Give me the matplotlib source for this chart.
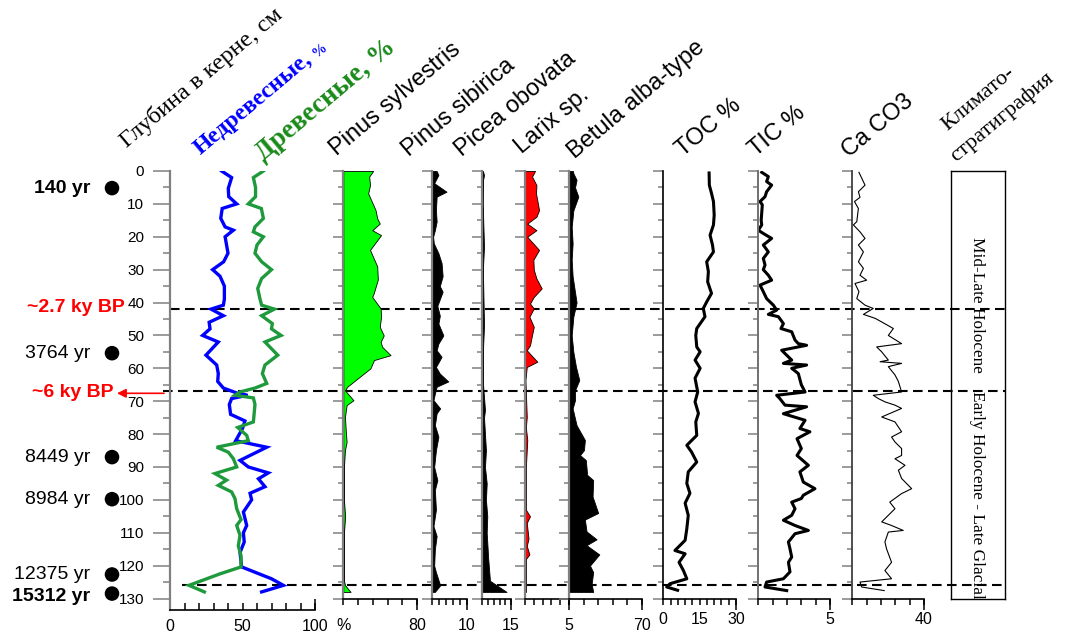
import matplotlib
matplotlib.use("Agg")
import matplotlib.pyplot as plt
from matplotlib import transforms
from matplotlib.ticker import FixedLocator, FuncFormatter
import numpy as np

SANS = ['Liberation Sans', 'DejaVu Sans']
SERIF = ['Liberation Serif', 'DejaVu Serif']
plt.rcParams['font.family'] = SANS

# ---------------- data ----------------
# Non-arboreal (blue) and arboreal (green) pollen, %
nap_depth = [0, 2, 5.3, 7.8, 10, 11.4, 14.4, 17, 18, 20, 22.5, 25, 27.6, 30, 32, 35, 39, 40.8, 42, 44,
             46, 48, 50, 52, 56, 59, 61.6, 64, 66, 67.5, 68.2, 69.2, 71, 74, 76, 78.3, 82, 84, 88, 90,
             91.8, 93.6, 96, 98, 100, 103.7, 107.8, 110, 112.8, 116, 120.4, 124, 126, 128]
nap = [35.6, 42.5, 40.2, 40.5, 46, 36, 35, 38, 43.7, 38, 39, 40, 37, 29.4, 34.5, 37.5, 37.5, 36.8, 28.3, 36.8,
       27, 27.6, 22.5, 33.3, 24.8, 32.2, 33.3, 32.9, 36.8, 46, 53.5, 42.5, 40.9, 41.8, 51.7, 50, 45.3, 66.7, 48.3, 54,
       67.8, 61, 65.5, 55.2, 56.3, 50.6, 52.9, 50.6, 51.2, 48.3, 49.4, 70, 78.2, 63.2]

ap_depth = [0, 2, 5, 7.8, 10, 11.4, 14.4, 17, 18.5, 20, 22.5, 25, 27.6, 30, 32.7, 35.7, 38.8, 40.8, 42, 44,
            46.4, 48, 50, 52, 56, 59, 61.6, 64.6, 66, 67.2, 68.2, 69, 71, 76.3, 78, 80.4, 82, 84, 85.5, 87.5,
            90, 92, 94, 95.6, 97.6, 99.6, 102.7, 106, 107.8, 110.8, 114, 117, 120.4, 122.5, 126, 128]
ap = [64.4, 57.5, 59, 59, 54, 63, 64.4, 58.6, 57.5, 64.4, 60, 58.6, 63.2, 70, 63.2, 60.5, 62, 63.2, 72, 63.2,
      70.6, 70, 76.6, 65.5, 74.3, 65.5, 63.7, 66.7, 58.6, 48.3, 44.8, 57.5, 58.6, 57.5, 46.7, 52.9, 54, 32.2, 40.2, 43.7,
      46, 31, 39, 33.3, 42.5, 44.8, 46, 49, 46, 48.3, 47.1, 49, 49, 34.5, 13.1, 23.7]

# Pinus sylvestris, %
ps_depth = [0, 1.7, 4.3, 6.8, 9.6, 11.9, 14.4, 16, 18, 19.5, 24, 29, 33, 37.2, 38.3, 41.8, 44.3, 47.4, 50, 52,
            53.5, 56, 57.5, 60, 65.6, 66.7, 69.7, 71.2, 74.8, 79.9, 82.4, 84.9, 90, 100, 105, 110, 124.6, 126, 128]
ps = [32.4, 28.1, 29, 27, 31.4, 35, 36.8, 39.6, 31.4, 41, 29, 36.8, 37.5, 33, 31.4, 40.5, 41, 39.6, 43.9, 40.5,
      42.3, 51.3, 33.3, 29.5, 4.3, 1.8, 11, 3.6, 1.8, 2.9, 3.6, 1.8, 0.7, 0.7, 2, 0.7, 0.7, 2, 7.9]

# Pinus sibirica, %
psib_depth = [0, 1.2, 3.7, 6.3, 7.8, 11.9, 15.4, 18, 20, 22, 25, 28, 32, 35, 36.7, 39, 41, 44, 46.4, 50,
              52.5, 54.5, 56.5, 59.6, 61.6, 64, 65.6, 67.7, 69.7, 72.2, 73.7, 77.3, 80.8, 84.9, 90,
              94, 97, 103, 108, 111, 115, 120, 122, 126, 128]
psib = [1.4, 1.9, 0.7, 4.2, 1.4, 1.2, 1.4, 0.9, 0.4, 0.6, 1.9, 2.8, 3.1, 2.3, 3.1, 2.3, 1.6, 2.3, 1.9, 3.3,
        1.9, 1.4, 2.8, 1.2, 2.3, 4.7, 1.4, 0.9, 0.5, 2.4, 1.4, 0.9, 1.9, 1.2, 0.7,
        1.6, 0.9, 1.2, 0.5, 1.4, 0.9, 0.7, 1.2, 2.4, 0.9]

# Picea obovata, %
pic_depth = [0, 1.2, 3, 10, 23, 30, 47, 55, 65, 72.7, 75, 84.9, 90, 95, 100, 105, 110, 118, 124.6, 128]
pic = [0.3, 0.9, 0.3, 0.2, 0.9, 0.3, 0.9, 0.3, 0.4, 1.4, 0.9, 1.9, 1.4, 2.3, 1.9, 2.6, 2.3, 3.1, 4, 12.7]

# Larix sp., %
lar_depth = [0, 1.7, 4.3, 6.8, 11.9, 13.9, 16, 18, 20, 24, 27, 30, 32.7, 35.7, 38.3, 40.3, 41.8, 44.3, 47.4, 50.4,
             53, 54.5, 58, 59.6, 63.6, 74.8, 78, 81.8, 90, 103, 105, 107, 111.8, 114, 116.6, 118, 128]
lar = [1.14, 0.8, 1.3, 1.25, 1.6, 1.3, 0.25, 1.3, 0.25, 1.6, 0.95, 1.0, 1.3, 1.9, 1.0, 0.57, 1.0, 0.5, 1.0, 0.76,
       0.57, 0.2, 1.4, 0.2, 0.05, 0.2, 0.1, 0.26, 0.1, 0.1, 0.57, 0.2, 0.4, 0.2, 0.5, 0.1, 0.1]

# Betula alba-type, %
bet_depth = [0, 0.7, 2.7, 5, 7.8, 12, 17, 22, 27, 32, 40, 44.3, 50, 55, 59.5, 63.6, 66.7, 69.7, 72.2, 77.3,
             81.8, 84.9, 86.4, 87.9, 92.4, 94, 99, 104, 106, 109.6, 112, 113.8, 116.6, 120, 122, 125.6, 128]
bet = [3.5, 3.9, 7, 5.5, 8.7, 3.9, 2.3, 3.2, 2.3, 3.2, 7, 3.9, 2.3, 3.9, 6.4, 9.6, 5.5, 5.5, 3.2, 7,
       15, 14.1, 10.3, 15.9, 17.2, 23, 22.4, 27.8, 15, 16.6, 26.3, 16.6, 28.9, 19.9, 23, 21.5, 23]

# TOC, %
toc_depth = [0.6, 4.3, 6.8, 9.3, 13.4, 16.4, 19.5, 22.5, 24.6, 27.6, 30.6, 33.7, 37.2, 39.8, 41.8, 44.3, 47.9, 50,
             53.5, 55, 57.5, 60, 63, 67.2, 70.2, 73.7, 76.3, 80.4, 83.4, 85.5, 88.5, 91.5, 95, 98, 101, 104.7,
             108.8, 112.3, 115.4, 116.4, 119, 121.5, 124, 125.5, 126.5, 127.5]
toc = [18.9, 19, 19.9, 20.7, 21, 20.7, 19.3, 20.3, 20.7, 17.9, 18.6, 18.3, 19.9, 17.9, 16.5, 17.2, 13.8, 13.4,
       13.8, 15.2, 13.1, 15.2, 13.1, 14.2, 13.1, 14.5, 13.4, 13.8, 9.7, 11.7, 13.8, 10.3, 9.7, 11, 9, 10.3,
       9.7, 9, 4.8, 9, 6.5, 8.3, 9.7, 2.8, 1.4, 5.9]

# TIC, %
tic_depth = [0.4, 1.7, 3.2, 4.3, 6.3, 7.8, 9.3, 10.3, 15, 16.4, 18, 19, 20.5, 22.5, 24.6, 26.6, 28.6, 30, 31.7, 33.2,
             34.7, 36.7, 38.8, 40.8, 42.3, 43.6, 44.3, 46.4, 47.9, 48.9, 51.4, 52.5, 53, 54.5, 55.5, 57.5, 58.5, 59,
             60, 61.6, 65, 67.2, 68.2, 69.2, 71.2, 71.7, 73.8, 75.8, 78.3, 79.3, 81.4, 84.4, 86.5, 89.5, 91.5,
             94.6, 96.6, 98.6, 99.6, 100.7, 102.7, 104.7, 106.2, 107.8, 109.3, 110.3, 112.8, 114.9, 117.4, 119,
             121.9, 124, 125, 126.5, 127.6]
tic = [0.24, 0.7, 0.58, 0.93, 0.58, 0.47, 0.12, 0.28, 0.2, 0.24, 0.0, 0.35, 0.93, 0.35, 0.7, 0.35, 0.47, 0.35, 0.7,
       0.93, 0.12, 0.35, 0.58, 1.05, 1.28, 0.7, 1.4, 1.75, 1.58, 2.33, 2.56, 2.79, 3.37, 1.63, 1.86, 2.33, 1.75,
       3.37, 2.33, 2.79, 3.0, 3.26, 1.28, 1.5, 1.86, 3.37, 1.75, 3.26, 2.9, 3.6, 2.7, 3.0, 2.7, 3.49, 2.9,
       3.14, 3.95, 3.14, 3.0, 2.33, 2.56, 2.33, 1.75, 2.56, 3.49, 2.56, 2.1, 2.21, 2.33, 2.1,
       2.21, 1.75, 0.58, 0.47, 1.98]

# CaCO3, %
ca_depth = [0.4, 4.3, 6.3, 8, 9.3, 11.4, 15.4, 16.4, 18.5, 20.5, 22.5, 24.6, 27.6, 29.6, 31.7, 33.2, 34.2, 36.7,
            38.8, 40.8, 41.8, 43.6, 44.8, 45.9, 47.9, 50, 52.5, 53.5, 55, 57.5, 58, 58.5, 59.5, 62, 64, 67.2, 68.2,
            69.2, 70.2, 71.2, 72.2, 74.8, 76.3, 79.3, 80.9, 82.4, 84.4, 86.5, 87.5, 89.5, 91, 93.5, 96.6, 98.1,
            100.7, 102.7, 106.7, 107.8, 109.3, 109.8, 112.8, 114.9, 119, 121.5, 124, 125, 126.5, 127.6]
ca = [3.7, 7.1, 3.4, 4.3, 1.2, 3.4, 2.5, 0.6, 4.3, 7.1, 3.4, 6.2, 3.4, 6.2, 4.3, 8, 1.5, 3.7, 2.5, 7.1, 11.7,
      6.2, 12.7, 16.4, 22.9, 20.1, 27.5, 13.6, 16.4, 20.1, 15.5, 27.5, 20.1, 23.8, 25.7, 27.5, 11.7, 14.5, 18.2,
      23.8, 27.5, 16.4, 23.8, 27.5, 21.9, 23.8, 27.5, 27.5, 23.8, 29.4, 25.7, 27.5, 33.1, 27.5, 20.9, 23.8,
      16.4, 21.9, 28.4, 20.1, 18.2, 19.1, 21.9, 18.2, 21.9, 4.3, 5.2, 17.8]

# Dated levels and zone boundaries (depth, cm)
date_labels = ["140 yr", "3764 yr", "8449 yr", "8984 yr", "12375 yr", "15312 yr"]
date_depths = [5.2, 55.4, 87.0, 99.8, 122.7, 128.5]
date_bold = [True, False, False, False, False, True]
event_labels = ["~2.7 ky BP", "~6 ky BP"]
event_depths = [41.4, 67.3]
boundary_depths = [42.0, 67.0, 126.0]
zone_labels = ["Mid-Late Holocene", "Early Holocene - Late Glacial"]
zone_centers = [40.8, 98.5]

# ---------------- layout ----------------
W, H, DPI = 1067, 635, 100
Y0, Y130 = 171.0, 598.5
PX_PER_CM = (Y130 - Y0) / 130.0

fig = plt.figure(figsize=(W / DPI, H / DPI), dpi=DPI)
fig.patch.set_facecolor('white')

overlay = fig.add_axes([0, 0, 1, 1], zorder=0)
overlay.set_xlim(0, W)
overlay.set_ylim(H, 0)
overlay.axis('off')


def panel(x0, x1, xmax, bottom_px=Y130, spine_color='#808080', spine_lw=1.6,
          major_len=7.2, minor_len=3.6):
    ymax = (bottom_px - Y0) / PX_PER_CM
    ax = fig.add_axes([x0 / W, 1 - bottom_px / H, (x1 - x0) / W, (bottom_px - Y0) / H], zorder=2)
    ax.set_xlim(0, xmax)
    ax.set_ylim(ymax, 0)
    ax.patch.set_visible(False)
    ax.spines['top'].set_visible(False)
    ax.spines['right'].set_visible(False)
    ax.spines['left'].set_color(spine_color)
    ax.spines['left'].set_linewidth(spine_lw)
    ax.spines['bottom'].set_color('black')
    ax.spines['bottom'].set_linewidth(1.2)
    ax.yaxis.set_major_locator(FixedLocator(np.arange(0, 131, 10)))
    ax.yaxis.set_minor_locator(FixedLocator(np.arange(5, 130, 10)))
    ax.tick_params(axis='y', which='major', direction='out', length=major_len, width=1.1,
                   color='#808080', labelleft=False)
    ax.tick_params(axis='y', which='minor', direction='out', length=minor_len, width=1.1,
                   color='#808080')
    return ax


def bottom_axis(ax, step, xmax, labels, pad, direction='out', short=4.3, long=8.0):
    ticks = np.arange(0, xmax + 1e-9, step)
    ax.xaxis.set_major_locator(FixedLocator(ticks))
    ax.xaxis.set_minor_locator(FixedLocator([xmax]))
    ax.xaxis.remove_overlapping_locs = False

    def fmt(v, pos):
        for val, txt in labels:
            if abs(v - val) < 1e-6:
                return txt
        return ''
    ax.xaxis.set_major_formatter(FuncFormatter(fmt))
    ax.tick_params(axis='x', which='major', direction=direction, length=short, width=1.1,
                   color='black', labelsize=11.5, pad=pad)
    ax.tick_params(axis='x', which='minor', direction=direction, length=long, width=1.1,
                   color='black', labelbottom=False)


BLUE = '#0000ff'
GREEN = '#1e9a3c'

# Panel 1: arboreal / non-arboreal sums with the depth scale
ax1 = panel(170, 315, 100, bottom_px=610, major_len=12.5, minor_len=5.0)
ax1.tick_params(axis='y', which='major', labelleft=True, labelsize=11, pad=6.0)
bottom_axis(ax1, 10, 100, [(0, '0'), (50, '50'), (100, '100')], pad=6.5, direction='in',
            short=5.0, long=8.0)
ax1.plot(nap, nap_depth, color=BLUE, lw=2.4, solid_joinstyle='miter')
ax1.plot(ap, ap_depth, color=GREEN, lw=2.4, solid_joinstyle='miter')

# Pollen taxa
ax2 = panel(343.3, 417, 80)
bottom_axis(ax2, 16, 80, [(0, '%'), (80, '80')], pad=10.0)
ax2.fill_betweenx(ps_depth, 0, ps, facecolor='#00ff00', edgecolor='black', lw=0.6)

ax3 = panel(431.7, 467, 10)
bottom_axis(ax3, 2, 10, [(10, '10')], pad=10.0)
ax3.fill_betweenx(psib_depth, 0, psib, facecolor='black', edgecolor='black', lw=0.6)

ax4 = panel(482.3, 511, 15)
bottom_axis(ax4, 3, 15, [(15, '15')], pad=10.0)
ax4.fill_betweenx(pic_depth, 0, pic, facecolor='black', edgecolor='black', lw=0.6)

ax5 = panel(525, 569, 5)
bottom_axis(ax5, 1, 5, [(5, '5')], pad=10.0)
ax5.fill_betweenx(lar_depth, 0, lar, facecolor='#ff0000', edgecolor='black', lw=0.6)

ax6 = panel(569.3, 642, 70)
bottom_axis(ax6, 14, 70, [(70, '70')], pad=10.0)
ax6.fill_betweenx(bet_depth, 0, bet, facecolor='black', edgecolor='black', lw=0.6)

# Geochemistry
ax7 = panel(663.3, 736, 30, spine_color='black', spine_lw=1.2)
bottom_axis(ax7, 3, 30, [(0, '0'), (15, '15'), (30, '30')], pad=5.5)
ax7.plot(toc, toc_depth, color='black', lw=2.2)

ax8 = panel(758.3, 830, 5, spine_color='#707070', spine_lw=1.4)
bottom_axis(ax8, 1, 5, [(5, '5')], pad=5.5)
ax8.plot(tic, tic_depth, color='black', lw=2.2)

ax9 = panel(852.3, 924, 40, spine_color='#404040', spine_lw=1.3)
bottom_axis(ax9, 8, 40, [(40, '40')], pad=5.5)
ax9.plot(ca, ca_depth, color='black', lw=0.8)

# Climatostratigraphy column
axz = fig.add_axes([951 / W, 1 - Y130 / H, (1005 - 951) / W, (Y130 - Y0) / H], zorder=2)
axz.set_xlim(0, 1)
axz.set_ylim(130, 0)
axz.patch.set_visible(False)
axz.set_xticks([])
axz.set_yticks([])
for s in axz.spines.values():
    s.set_color('black')
    s.set_linewidth(1.0)
for lab, dc in zip(zone_labels, zone_centers):
    axz.text(0.48, dc, lab, rotation=-90, ha='center', va='center', family=SERIF,
             fontsize=12.4, transform=transforms.blended_transform_factory(axz.transAxes, axz.transData))

# Depth-referenced annotations in figure pixels
bt = transforms.blended_transform_factory(overlay.transData, ax1.transData)

starts = [170, 163, 182]
for d, xs in zip(boundary_depths, starts):
    overlay.plot([xs, 1005], [d, d], transform=bt, color='black', lw=1.5,
                 ls=(0, (4.6, 2.6)), zorder=1)

overlay.scatter([112] * len(date_depths), date_depths, s=110, color='black', transform=bt,
                zorder=3, edgecolors='none')
label_depths = [5.2, 55.4, 87.0, 99.8, 122.7, 129.5]
for lab, d, b in zip(date_labels, label_depths, date_bold):
    overlay.text(90, d, lab, transform=bt, ha='right', va='center', fontsize=14,
                 fontweight='bold' if b else 'normal', color='black')

event_right = [125, 113]
for lab, d, xr in zip(event_labels, event_depths, event_right):
    overlay.text(xr, d, lab, transform=bt, ha='right', va='center', fontsize=14,
                 fontweight='bold', color='#ff0000')
overlay.annotate('', xy=(117, 67.6), xytext=(164, 67.6), xycoords=bt, textcoords=bt,
                 arrowprops=dict(arrowstyle='-|>', color='#ff0000', lw=1.2, mutation_scale=13,
                                 shrinkA=0, shrinkB=0))

# Column headers
ROT = 40
headers = [
    ("Глубина в керне, см", 127, 148, SERIF, 17.5, 'normal', 'black'),
    ("Древесные, %", 263, 161, SERIF, 19.5, 'bold', '#1a8a1a'),
    ("Pinus sylvestris", 337, 156, SANS, 17, 'normal', 'black'),
    ("Pinus sibirica", 409, 157, SANS, 17, 'normal', 'black'),
    ("Picea obovata", 462, 157, SANS, 17, 'normal', 'black'),
    ("Larix sp.", 522, 154, SANS, 17, 'normal', 'black'),
    ("Betula alba-type", 575, 159, SANS, 17, 'normal', 'black'),
    ("TOC %", 683, 157, SANS, 17, 'normal', 'black'),
    ("TIC %", 756, 157, SANS, 17, 'normal', 'black'),
    ("Ca CO3", 849, 158, SANS, 17, 'normal', 'black'),
    ("Климато-", 947, 131, SERIF, 16, 'normal', 'black'),
    ("стратиграфия", 956, 162, SERIF, 16, 'normal', 'black'),
]
for txt, x, y, fam, fs, fw, col in headers:
    overlay.text(x, y, txt, rotation=ROT, rotation_mode='anchor', ha='left', va='baseline',
                 family=fam, fontsize=fs, fontweight=fw, color=col)

# Non-arboreal header: bold word followed by a small percent sign
nx, ny = 200, 155
overlay.text(nx, ny, "Недревесные,", rotation=ROT, rotation_mode='anchor', ha='left',
             va='baseline', family=SERIF, fontsize=17, fontweight='bold', color=BLUE)
renderer = fig.canvas.get_renderer()
probe = overlay.text(0, 0, "Недревесные,", family=SERIF, fontsize=17, fontweight='bold')
wpx = probe.get_window_extent(renderer).width + 5
probe.remove()
ang = np.deg2rad(ROT)
overlay.text(nx + wpx * np.cos(ang), ny - wpx * np.sin(ang), "%", rotation=ROT,
             rotation_mode='anchor', ha='left', va='baseline', family=SERIF, fontsize=10.5,
             fontweight='bold', color=BLUE)

fig.savefig("out.png", dpi=DPI)
